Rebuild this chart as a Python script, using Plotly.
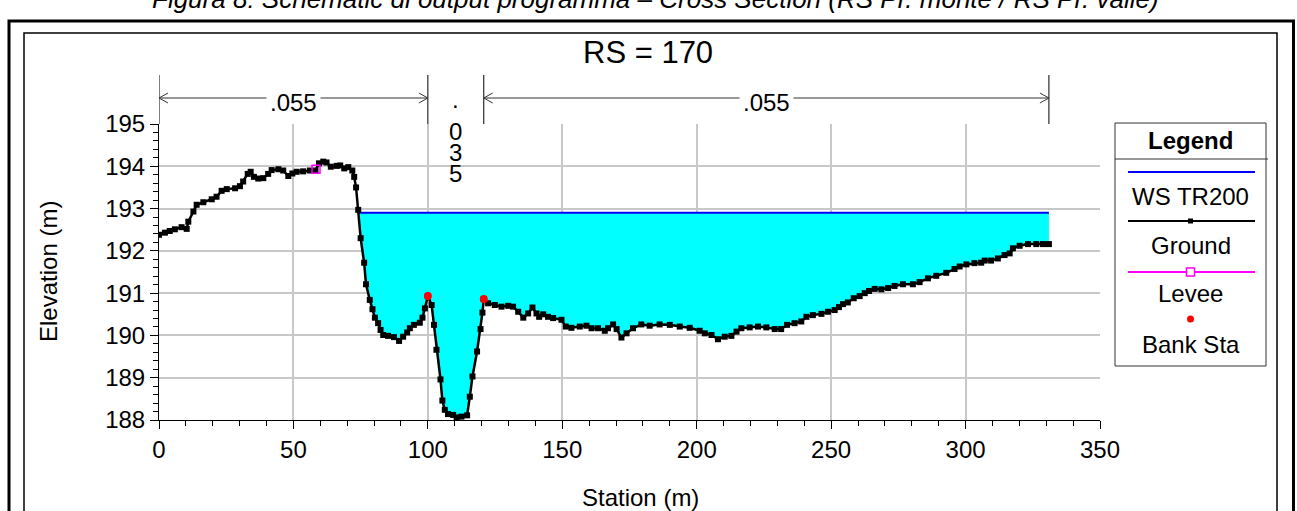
import plotly.graph_objects as go
import numpy as np

# ---------------- data ----------------
station = [0.0, 2.2, 4.0, 5.9, 8.4, 10.3, 10.9, 12.8, 14.0, 16.5, 19.6, 21.4, 23.3, 25.2, 28.3,
           30.1, 31.3, 33.0, 34.1, 35.3, 36.9, 38.8, 40.6, 41.9, 44.4, 46.2, 48.1, 49.6, 51.2,
           53.6, 56.1, 58.2, 59.5, 61.1, 62.3, 63.9, 66.1, 67.4, 68.9, 70.4, 71.9, 72.6, 73.3,
           74.1, 75.0, 76.3, 77.0, 78.4, 79.4, 80.3, 81.5, 82.4, 83.4, 85.2, 87.4, 89.3, 90.8,
           92.3, 93.3, 94.8, 97.0, 98.0, 98.9, 100.0, 101.4, 102.3, 103.2, 104.7, 105.4, 106.3,
           107.5, 109.4, 110.7, 112.5, 114.6, 115.6, 116.6, 118.3, 119.6, 120.3, 120.8, 122.4,
           124.9, 127.4, 129.9, 131.7, 133.6, 135.5, 137.3, 138.9, 140.4, 141.4, 142.9, 144.7,
           146.6, 149.7, 151.3, 153.4, 156.5, 159.0, 160.9, 163.3, 165.8, 167.0, 168.9, 170.2,
           172.0, 173.9, 176.3, 179.4, 182.5, 186.2, 190.0, 193.7, 197.4, 201.1, 203.0, 205.5,
           207.9, 210.4, 212.9, 214.8, 216.6, 219.7, 222.8, 225.9, 229.0, 231.4, 233.6, 236.4,
           238.9, 240.8, 243.2, 246.4, 248.8, 251.3, 252.9, 254.4, 256.2, 258.4, 260.6, 262.5,
           264.1, 266.2, 268.7, 271.2, 273.6, 276.7, 280.4, 282.9, 286.0, 289.1, 292.8, 295.9,
           297.8, 300.3, 303.3, 305.8, 307.1, 309.5, 312.0, 314.5, 316.4, 317.6, 320.1, 323.2,
           326.3, 328.8, 331.0]
elevation = [192.38, 192.43, 192.47, 192.51, 192.56, 192.52, 192.69, 192.93, 193.09, 193.15, 193.22,
             193.28, 193.42, 193.46, 193.48, 193.53, 193.64, 193.82, 193.87, 193.75, 193.71, 193.72,
             193.82, 193.91, 193.93, 193.90, 193.77, 193.83, 193.87, 193.88, 193.90, 193.90, 194.07,
             194.11, 194.09, 193.99, 194.01, 194.02, 193.95, 193.98, 193.90, 193.75, 193.50, 192.97,
             192.30, 191.72, 191.21, 190.84, 190.62, 190.42, 190.29, 190.13, 190.01, 189.99, 189.96,
             189.87, 189.97, 190.07, 190.17, 190.25, 190.30, 190.42, 190.64, 190.93, 190.72, 190.25,
             189.66, 188.96, 188.46, 188.24, 188.14, 188.12, 188.06, 188.08, 188.11, 188.55, 189.03,
             189.62, 190.15, 190.54, 190.86, 190.76, 190.72, 190.68, 190.70, 190.68, 190.56, 190.42,
             190.52, 190.66, 190.52, 190.44, 190.50, 190.44, 190.41, 190.37, 190.21, 190.18, 190.21,
             190.23, 190.17, 190.17, 190.11, 190.17, 190.26, 190.15, 189.95, 190.05, 190.17, 190.26,
             190.23, 190.26, 190.25, 190.21, 190.18, 190.11, 190.05, 190.01, 189.91, 189.97, 189.99,
             190.09, 190.17, 190.19, 190.21, 190.19, 190.15, 190.15, 190.25, 190.29, 190.33, 190.44,
             190.48, 190.51, 190.56, 190.60, 190.67, 190.74, 190.78, 190.88, 190.93, 191.00, 191.05,
             191.10, 191.09, 191.12, 191.17, 191.21, 191.21, 191.26, 191.35, 191.41, 191.48, 191.57,
             191.63, 191.68, 191.71, 191.72, 191.77, 191.77, 191.82, 191.90, 191.94, 192.06, 192.12,
             192.16, 192.16, 192.16, 192.16]
ws_elev = 192.90
levee_station = [58.4]
levee_elev = [193.93]
bank_station = [100.0, 120.8]
bank_elev = [190.93, 190.86]
n_breaks = [0.0, 100.0, 120.8, 331.0]
n_values = [".055", ".035", ".055"]
x_ticks = [0, 50, 100, 150, 200, 250, 300, 350]
y_ticks = [188, 189, 190, 191, 192, 193, 194, 195]
legend_labels = ["WS TR200", "Ground", "Levee", "Bank Sta"]
chart_title = "RS = 170"
caption = "Figura 8: Schematic di output programma – Cross Section (RS Pr. monte / RS Pr. valle)"

# ---------------- geometry helpers ----------------
W, H = 1297, 511
PL, PR, PT, PB = 159, 1100, 124, 420
FONT = "Liberation Sans, Arial, sans-serif"


def px(xp):
    return (xp - PL) / (PR - PL)


def py(yp):
    return (PB - yp) / (PB - PT)


xscale = (PR - PL) / (x_ticks[-1] - x_ticks[0])  # px per m

# ---------------- water polygon ----------------
st = np.array(station)
el = np.array(elevation)
i = next(k for k in range(1, len(st)) if el[k] < ws_elev <= el[k - 1])
xl = st[i - 1] + (ws_elev - el[i - 1]) * (st[i] - st[i - 1]) / (el[i] - el[i - 1])
poly_x = [xl] + list(st[i:]) + [st[-1], xl]
poly_y = [ws_elev] + list(el[i:]) + [ws_elev, ws_elev]

fig = go.Figure()
fig.add_trace(go.Scatter(x=poly_x, y=poly_y, fill="toself", fillcolor="#00FFFF",
                         mode="lines", line=dict(width=0), hoverinfo="skip", showlegend=False))
fig.add_trace(go.Scatter(x=[xl, st[-1]], y=[ws_elev, ws_elev], mode="lines",
                         line=dict(color="#0000FF", width=2), showlegend=False))
fig.add_trace(go.Scatter(x=station, y=elevation, mode="lines+markers",
                         line=dict(color="black", width=2.5),
                         marker=dict(symbol="square", size=6, color="black"), showlegend=False))
fig.add_trace(go.Scatter(x=levee_station, y=levee_elev, mode="markers",
                         marker=dict(symbol="square-open", size=8, color="#FF00FF",
                                     line=dict(width=1.5, color="#FF00FF")), showlegend=False))
fig.add_trace(go.Scatter(x=bank_station, y=bank_elev, mode="markers",
                         marker=dict(symbol="circle", size=8, color="#FF0000"), showlegend=False))

shapes = []
annotations = []

# frames
shapes.append(dict(type="rect", xref="paper", yref="paper", x0=px(9), x1=px(1293.5),
                   y0=py(600), y1=py(21), line=dict(color="black", width=3)))
shapes.append(dict(type="rect", xref="paper", yref="paper", x0=px(24), x1=px(1277),
                   y0=py(600), y1=py(33), line=dict(color="black", width=1.5)))

# roughness markers
for xb in n_breaks:
    shapes.append(dict(type="line", xref="x", yref="paper", x0=xb, x1=xb, y0=py(75), y1=py(124),
                       line=dict(color="black", width=1)))
ay = py(98)
adx = 9 / xscale
ady = 5 / (PB - PT)
for a, b in [(n_breaks[0], n_breaks[1]), (n_breaks[2], n_breaks[3])]:
    shapes.append(dict(type="line", xref="x", yref="paper", x0=a, x1=b, y0=ay, y1=ay,
                       line=dict(color="#333333", width=1)))
    shapes.append(dict(type="path", xref="x", yref="paper",
                       path=f"M {a + adx},{ay + ady} L {a},{ay} L {a + adx},{ay - ady}",
                       line=dict(color="#333333", width=1)))
    shapes.append(dict(type="path", xref="x", yref="paper",
                       path=f"M {b - adx},{ay + ady} L {b},{ay} L {b - adx},{ay - ady}",
                       line=dict(color="#333333", width=1)))
for k, (a, b) in enumerate([(n_breaks[0], n_breaks[1]), (n_breaks[2], n_breaks[3])]):
    annotations.append(dict(x=(a + b) / 2, y=py(103), xref="x", yref="paper",
                            text=n_values[0 if k == 0 else 2], showarrow=False,
                            font=dict(family=FONT, size=24, color="black"),
                            bgcolor="white", borderpad=3, xanchor="center", yanchor="middle"))
mid = (n_breaks[1] + n_breaks[2]) / 2
for ch, yc in zip(list(n_values[1]), [100, 131, 152, 173]):
    annotations.append(dict(x=mid, y=py(yc), xref="x", yref="paper", text=ch, showarrow=False,
                            font=dict(family=FONT, size=24, color="black"),
                            xanchor="center", yanchor="middle"))

# titles
annotations.append(dict(x=px(655), y=py(48), xref="paper", yref="paper", text=chart_title,
                        showarrow=False, font=dict(family=FONT, size=31, color="black"),
                        xanchor="center", yanchor="middle") if False else
                   dict(x=px(648), y=py(52), xref="paper", yref="paper", text=chart_title,
                        showarrow=False, font=dict(family=FONT, size=31, color="black"),
                        xanchor="center", yanchor="middle"))
annotations.append(dict(x=px(655), y=py(-1), xref="paper", yref="paper", text=f"<i>{caption}</i>",
                        showarrow=False, font=dict(family=FONT, size=26, color="black"),
                        xanchor="center", yanchor="middle"))
annotations.append(dict(x=px(48), y=py(272), xref="paper", yref="paper", text="Elevation (m)",
                        showarrow=False, textangle=-90, font=dict(family=FONT, size=24, color="black"),
                        xanchor="center", yanchor="middle"))
annotations.append(dict(x=px(640), y=py(497), xref="paper", yref="paper", text="Station (m)",
                        showarrow=False, font=dict(family=FONT, size=24, color="black"),
                        xanchor="center", yanchor="middle"))

# legend box
LX0, LX1, LY0, LY1 = 1115, 1266, 123, 366
LCX = (LX0 + LX1) / 2
shapes.append(dict(type="rect", xref="paper", yref="paper", x0=px(LX0), x1=px(LX1),
                   y0=py(LY1), y1=py(LY0), line=dict(color="#333333", width=1), fillcolor="white",
                   layer="above"))
shapes.append(dict(type="line", xref="paper", yref="paper", x0=px(LX0), x1=px(1268),
                   y0=py(159), y1=py(159), line=dict(color="#333333", width=1)))
annotations.append(dict(x=px(LCX), y=py(140), xref="paper", yref="paper", text="<b>Legend</b>",
                        showarrow=False, font=dict(family=FONT, size=24, color="black"),
                        xanchor="center", yanchor="middle"))
for yline, col in [(172, "#0000FF"), (221, "black"), (272, "#FF00FF")]:
    shapes.append(dict(type="line", xref="paper", yref="paper", x0=px(1128), x1=px(1255),
                       y0=py(yline), y1=py(yline), line=dict(color=col, width=2)))
shapes.append(dict(type="rect", xref="paper", yref="paper", x0=px(LCX - 2.5), x1=px(LCX + 2.5),
                   y0=py(223.5), y1=py(218.5), line=dict(width=0), fillcolor="black"))
shapes.append(dict(type="rect", xref="paper", yref="paper", x0=px(LCX - 4), x1=px(LCX + 4),
                   y0=py(276), y1=py(268), line=dict(color="#FF00FF", width=1.5), fillcolor="white"))
shapes.append(dict(type="circle", xref="paper", yref="paper", x0=px(LCX - 3.5), x1=px(LCX + 3.5),
                   y0=py(322.5), y1=py(315.5), line=dict(width=0), fillcolor="#FF0000"))
for lab, yc in zip(legend_labels, [196, 245, 293, 344]):
    annotations.append(dict(x=px(LCX), y=py(yc), xref="paper", yref="paper", text=lab,
                            showarrow=False, font=dict(family=FONT, size=24, color="black"),
                            xanchor="center", yanchor="middle"))

axis_common = dict(showgrid=True, gridcolor="#c8c8c8", gridwidth=2, zeroline=False,
                   showline=True, linecolor="black", linewidth=1, ticks="outside",
                   ticklen=8, tickcolor="black", tickwidth=1,
                   tickfont=dict(family=FONT, size=24, color="black"))

fig.update_layout(
    width=W, height=H,
    margin=dict(l=PL, r=W - PR, t=PT, b=H - PB, pad=0),
    paper_bgcolor="white", plot_bgcolor="white",
    showlegend=False,
    xaxis=dict(range=[x_ticks[0], x_ticks[-1]], tickmode="array", tickvals=x_ticks,
               minor=dict(dtick=10, tick0=0, ticks="outside", ticklen=5, tickcolor="black",
                          tickwidth=1, showgrid=False),
               **axis_common),
    yaxis=dict(range=[y_ticks[0], y_ticks[-1]], tickmode="array", tickvals=y_ticks,
               minor=dict(dtick=0.2, tick0=188, ticks="outside", ticklen=5, tickcolor="black",
                          tickwidth=1, showgrid=False),
               **axis_common),
    shapes=shapes,
    annotations=annotations,
)

fig.write_html("out.html", config={"displayModeBar": False},
               post_script="document.body.style.margin='0';document.body.style.overflow='hidden';")
